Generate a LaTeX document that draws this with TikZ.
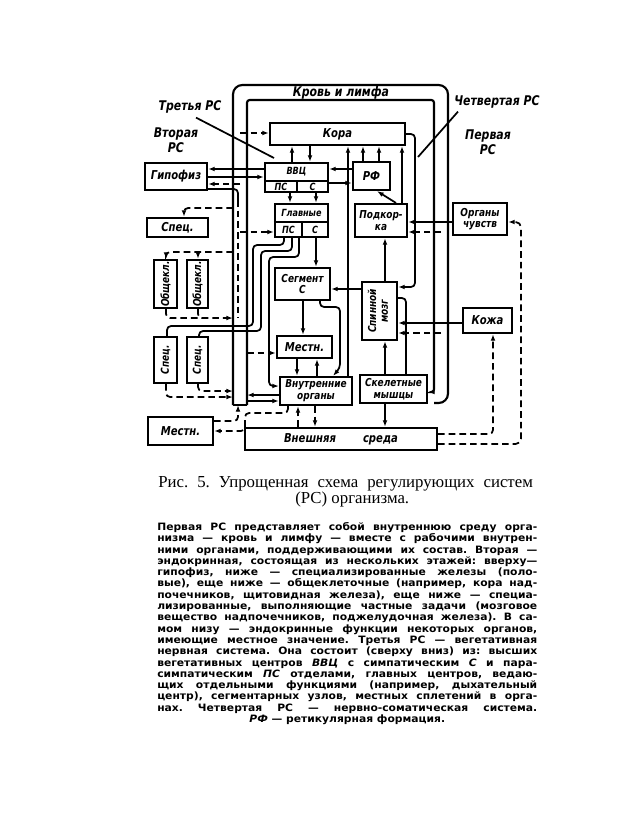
\documentclass[tikz,border=0pt]{standalone}
\usepackage{graphicx}
\usepackage{fontspec}
\setmainfont{Liberation Serif}
\newfontfamily\lblfont{DejaVu Sans}[FakeStretch=0.82]
\newfontfamily\parfont{DejaVu Sans}[FakeStretch=1.06]
\usetikzlibrary{arrows.meta}
\frenchspacing

\newlength{\pw}\setlength{\pw}{285pt}
\newcommand{\pl}[1]{\hbox to \pw{#1}}

\begin{document}
\begin{tikzpicture}[x=0.75pt, y=-0.75pt, >={Latex[length=5pt,width=3.6pt]},
  blk/.style={draw, line width=1.6pt, inner sep=0pt, align=center, font=\lblfont\bfseries\itshape\fontsize{8.2}{8.8}\selectfont},
  bigtxt/.style={font=\lblfont\bfseries\itshape\fontsize{9.2}{9.8}\selectfont},
  cell/.style={inner sep=0pt, font=\lblfont\bfseries\itshape\fontsize{7.4}{8}\selectfont},
  lbl/.style={inner sep=0pt, align=center, font=\lblfont\bfseries\itshape\fontsize{10}{11.2}\selectfont},
  conn/.style={line width=1.3pt},
  hum/.style={line width=1.3pt, dash pattern=on 5pt off 3pt},
  frame/.style={line width=1.6pt}]
\fill[white] (0,0) rectangle (620,836);
\useasboundingbox (0,0) rectangle (620,836);

% blocks
\node[blk, bigtxt, minimum width=101.25pt, minimum height=16.5pt] (kora) at (337.5,134) {Кора};
\node[blk, minimum width=47.25pt, minimum height=21.75pt] (vvc) at (296.5,177.5) {};
\node[blk, bigtxt, minimum width=27.75pt, minimum height=21pt] (rf) at (371.5,176) {РФ};
\node[blk, minimum width=39.75pt, minimum height=24.75pt] (glav) at (301.5,220.5) {};
\node[blk, minimum width=39pt, minimum height=24.75pt] (podk) at (381,220.5) {Подкор-\\ка};
\node[blk, minimum width=40.5pt, minimum height=24pt] (organy) at (480,219) {Органы\\чувств};
\node[blk, minimum width=41.25pt, minimum height=24pt] (segm) at (302.5,284) {Сегмент\\С};
\node[blk, minimum width=26.25pt, minimum height=43.5pt] (spin) at (379.5,311) {\rotatebox{90}{\begin{tabular}{@{}c@{}}Спинной\\мозг\end{tabular}}};
\node[blk, bigtxt, minimum width=36.75pt, minimum height=18.75pt] (kozha) at (487.5,320.5) {Кожа};
\node[blk, bigtxt, minimum width=41.25pt, minimum height=16.5pt] (mestn) at (304.5,347) {Местн.};
\node[blk, minimum width=54pt, minimum height=21pt] (vnutr) at (316,391) {Внутренние\\органы};
\node[blk, minimum width=50.25pt, minimum height=21pt] (skel) at (393.5,389) {Скелетные\\мышцы};
\node[blk, bigtxt, minimum width=144pt, minimum height=16.5pt] (vnesh) at (341,439) {Внешняя\hspace{2.2em}среда};
\node[blk, bigtxt, minimum width=46.5pt, minimum height=20.25pt] (gipo) at (176,176.5) {Гипофиз};
\node[blk, bigtxt, minimum width=45.75pt, minimum height=14.25pt] (spec) at (177.5,227.5) {Спец.};
\node[blk, minimum width=17.25pt, minimum height=36pt] (obsha) at (165.5,284) {\rotatebox{90}{Общекл.}};
\node[blk, minimum width=15.75pt, minimum height=36pt] (obshb) at (197.5,284) {\rotatebox{90}{Общекл.}};
\node[blk, minimum width=17.25pt, minimum height=34.5pt] (speca) at (165.5,360) {\rotatebox{90}{Спец.}};
\node[blk, minimum width=15.75pt, minimum height=34.5pt] (specb) at (197.5,360) {\rotatebox{90}{Спец.}};
\node[blk, bigtxt, minimum width=48.75pt, minimum height=21pt] (mestnb) at (180.5,431) {Местн.};

% cells of VVC and the main centres
\draw[conn] (vvc.west |- 0,181) -- (vvc.east |- 0,181);
\draw[conn] (297,181) -- (297,0 |- vvc.south);
\node[cell] (vvct) at (296.5,172) {ВВЦ};
\node[cell] (vvcps) at (281,187) {ПС};
\node[cell] (vvcs) at (312.5,187) {С};
\draw[conn] (glav.west |- 0,222) -- (glav.east |- 0,222);
\draw[conn] (302,222) -- (302,0 |- glav.south);
\node[cell] (glavt) at (301.5,213) {Главные};
\node[cell] (glavps) at (288.5,230) {ПС};
\node[cell] (glavs) at (315,230) {С};

% blood and lymph band
\coordinate (outL) at (233,85); \coordinate (inL) at (247,100); \coordinate (midL) at (240,100);
\coordinate (outR) at (448,85); \coordinate (inR) at (434,100); \coordinate (midR) at (441,100);
\coordinate (bandB) at (238,405);
\draw[frame, rounded corners=7pt] (233,405) -- (outL) -- (outR) -- (448,403) -- (434,403);
\draw[frame] (233,405) -- (247,405);
\draw[frame, ->, rounded corners=2pt] (247,405) -- (inL) -- (inR) -- (434,392) -- (skel.east |- 0,392);

% labels
\node[lbl] (krov) at (341,93) {Кровь и лимфа};
\node[lbl] (tretya) at (190,107) {Третья РС};
\node[lbl] (vtor) at (176,140) {Вторая\\РС};
\node[lbl] (chetv) at (497,102) {Четвертая РС};
\node[lbl] (perv) at (488,142) {Первая\\РС};
\coordinate (tretyaTip) at (274,158);
\coordinate (chetvTip) at (418,157);
\draw[conn] ([shift={(6,4)}]tretya.south) -- (tretyaTip);
\draw[conn] ([shift={(-39,3)}]chetv.south) -- (chetvTip);

% nervous connections
\draw[conn, ->, rounded corners=3pt] (kora.east) -- (415,134) -- (415,287) -- (spin.east |- 0,287);
\draw[conn, ->] (292,0 |- vvc.north) -- (292,0 |- kora.south);
\draw[conn, ->] (310,0 |- kora.south) -- (310,0 |- vvc.north);
\draw[conn, ->] (363,0 |- rf.north) -- (363,0 |- kora.south);
\draw[conn, ->] (379,0 |- rf.north) -- (379,0 |- kora.south);
\draw[conn, ->] (402,0 |- podk.north) -- (402,0 |- kora.south);
\draw[conn, ->] (348,0 |- vnutr.north) -- (348,0 |- kora.south);
\draw[conn, ->] (rf.west |- 0,169) -- (vvc.east |- 0,169);
\draw[conn, ->] (vvc.east |- 0,183) -- (rf.west |- 0,183);
\draw[conn, ->] (396,0 |- podk.north) -- (377,0 |- rf.south);
\draw[conn, ->] (vvc.west |- 0,169) -- (gipo.east |- 0,169);
\draw[conn, ->] (gipo.east |- 0,177) -- (vvc.west |- 0,177);
\draw[conn, ->] (290,0 |- vvc.south) -- (290,0 |- glav.north);
\draw[conn, ->] (316,0 |- vvc.south) -- (316,0 |- glav.north);
\draw[conn, ->] (316,0 |- glav.south) -- (316,0 |- segm.north);
\draw[conn, ->] (303,0 |- segm.south) -- (303,0 |- mestn.north);
\draw[conn, ->, rounded corners=3pt] (320,0 |- segm.south) -- (320,307) -- (340,307) -- (340,368) -- (333,0 |- vnutr.north);
\draw[conn, ->] (297,0 |- mestn.south) -- (297,0 |- vnutr.north);
\draw[conn, ->] (317,0 |- vnutr.north) -- (317,0 |- mestn.south);
\draw[conn, ->] (spin.west |- 0,289) -- (segm.east |- 0,289);
\draw[conn, ->] (385,0 |- spin.north) -- (385,0 |- podk.south);
\draw[conn, ->] (385,0 |- skel.north) -- (385,0 |- spin.south);
\draw[conn, rounded corners=3pt] (spin.east |- 0,298) -- (406,298) -- (406,0 |- skel.north);
\draw[conn, ->] (385,0 |- skel.south) -- (385,0 |- vnesh.north);
\draw[conn, ->] (organy.west |- 0,222) -- (podk.east |- 0,222);
\draw[conn, ->] (kozha.west |- 0,323) -- (spin.east |- 0,323);
\draw[conn, rounded corners=3pt] (284,0 |- glav.south) -- (284,245) -- (253,245) -- (253,326) -- (167,326) -- (167,0 |- speca.north);
\draw[conn, rounded corners=3pt] (292,0 |- glav.south) -- (292,251) -- (261,251) -- (261,331) -- (199,331) -- (199,0 |- specb.north);
\draw[conn, ->, rounded corners=3pt] (299,0 |- glav.south) -- (299,257) -- (269,257) -- (269,386) -- (vnutr.west |- 0,386);
\draw[conn, ->] (vnutr.west |- 0,395) -- (inL |- 0,395);
\draw[conn, ->] (inL |- 0,401) -- (vnutr.west |- 0,401);
\draw[conn, rounded corners=3pt] (gipo.east |- 0,189) -- (238,189) -- (238,200);

% humoral connections
\draw[hum] (238,200) -- (238,318);
\draw[hum, ->] (midL |- 0,133) -- (kora.west |- 0,133);
\draw[hum, ->] (midL |- 0,184) -- (gipo.east |- 0,184);
\draw[hum, ->, rounded corners=3pt] (outL |- 0,208) -- (184,208) -- (184,0 |- spec.north);
\draw[hum, ->] (midL |- 0,232) -- (glav.west |- 0,232);
\draw[hum, ->, rounded corners=3pt] (outL |- 0,252) -- (166,252) -- (166,0 |- obsha.north);
\coordinate (obshfork) at (198,252);
\draw[hum, ->] (obshfork) -- (198,0 |- obshb.north);
\draw[hum, ->, rounded corners=3pt] (166,0 |- obsha.south) -- (166,318) -- (outL |- 0,318);
\draw[hum, rounded corners=3pt] (198,0 |- obshb.south) -- (198,318) -- (206,318);
\draw[hum, ->, rounded corners=3pt] (166,0 |- speca.south) -- (166,397) -- (outL |- 0,397);
\draw[hum, ->, rounded corners=3pt] (198,0 |- specb.south) -- (198,391) -- (outL |- 0,391);
\draw[hum, ->] (inL |- 0,353) -- (mestn.west |- 0,353);
\draw[hum, ->, rounded corners=3pt] (mestnb.east |- 0,421) -- (238,421) -- (bandB);
\draw[hum, ->, rounded corners=3pt] (288,0 |- vnutr.south) -- (288,413) -- (245,413) -- (245,431) -- (mestnb.east |- 0,431);
\draw[hum, ->] (298,0 |- vnesh.north) -- (298,0 |- vnutr.south);
\draw[hum, ->] (315,0 |- vnutr.south) -- (315,0 |- vnesh.north);
\draw[hum, ->] (midR |- 0,232) -- (podk.east |- 0,232);
\draw[hum, ->] (midR |- 0,333) -- (spin.east |- 0,333);
\draw[hum, ->, rounded corners=3pt] (vnesh.east |- 0,434) -- (493,434) -- (493,0 |- kozha.south);
\draw[hum, ->, rounded corners=4pt] (vnesh.east |- 0,444) -- (521,444) -- (521,222) -- (organy.east |- 0,222);

% caption and text
\node[anchor=base west, inner sep=0pt, font=\fontsize{12.6}{12.6}\selectfont] (caption) at (158,503)
  {\vbox{\baselineskip=12pt\hbox to 281pt{Рис. 5. Упрощенная схема регулирующих систем}\hbox to 281pt{\hskip 10pt\hfil (РС) организма.\hfil}}};
\node[anchor=base west, inner sep=0pt, font=\parfont\bfseries\fontsize{7.6}{8.475}\selectfont] (descr) at (157,722.5) {\vbox{%
\pl{Первая РС представляет собой внутреннюю среду орга-}
\pl{низма — кровь и лимфу — вместе с рабочими внутрен-}
\pl{ними органами, поддерживающими их состав. Вторая —}
\pl{эндокринная, состоящая из нескольких этажей: вверху—}
\pl{гипофиз, ниже — специализированные железы (поло-}
\pl{вые), еще ниже — общеклеточные (например, кора над-}
\pl{почечников, щитовидная железа), еще ниже — специа-}
\pl{лизированные, выполняющие частные задачи (мозговое}
\pl{вещество надпочечников, поджелудочная железа). В са-}
\pl{мом низу — эндокринные функции некоторых органов,}
\pl{имеющие местное значение. Третья РС — вегетативная}
\pl{нервная система. Она состоит (сверху вниз) из: высших}
\pl{вегетативных центров {\itshape ВВЦ} с симпатическим {\itshape С} и пара-}
\pl{симпатическим {\itshape ПС} отделами, главных центров, ведаю-}
\pl{щих отдельными функциями (например, дыхательный}
\pl{центр), сегментарных узлов, местных сплетений в орга-}
\pl{нах. Четвертая РС — нервно-соматическая система.}
\pl{\hfil{\itshape РФ} — ретикулярная формация.\hfil}}};
\end{tikzpicture}
\end{document}
